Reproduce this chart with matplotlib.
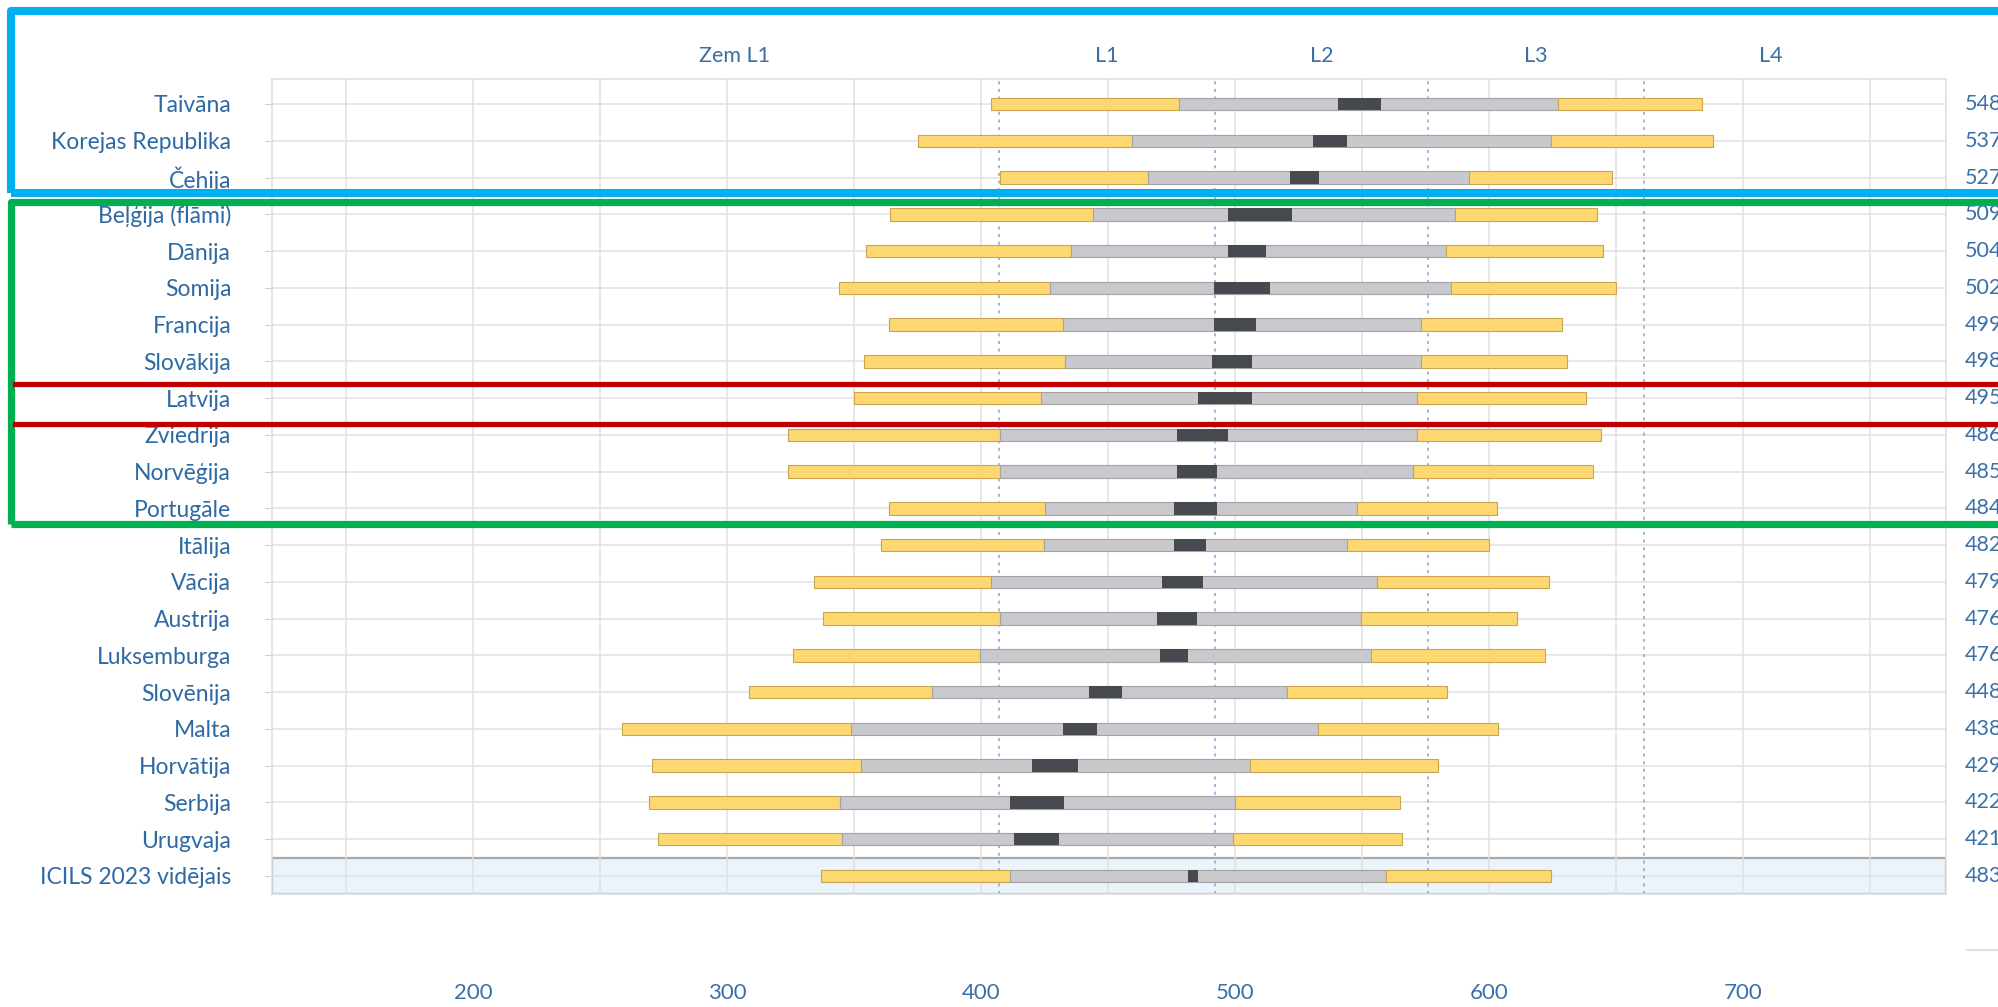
import matplotlib
matplotlib.use("Agg")
import matplotlib.pyplot as plt
from matplotlib.patches import Rectangle
from matplotlib.ticker import FuncFormatter

plt.rcParams['font.family'] = ['Lato', 'DejaVu Sans']

# data: percentiles 5/25, mean CI box, 75/95
countries = ['Taivāna', 'Korejas Republika', 'Čehija', 'Beļģija (flāmi)', 'Dānija',
             'Somija', 'Francija', 'Slovākija', 'Latvija', 'Zviedrija', 'Norvēģija',
             'Portugāle', 'Itālija', 'Vācija', 'Austrija', 'Luksemburga', 'Slovēnija',
             'Malta', 'Horvātija', 'Serbija', 'Urugvaja', 'ICILS 2023 vidējais']
means = [548, 537, 527, 509, 504, 502, 499, 498, 495, 486, 485, 484, 482, 479,
         476, 476, 448, 438, 429, 422, 421, 483]
p5 = [404, 375, 407.5, 364, 354.5, 344, 363.5, 354, 350, 324, 324, 363.5, 360.5,
      334, 337.5, 326, 308.5, 258.5, 270.5, 269, 272.5, 337]
p25 = [478, 459.5, 465.5, 444, 435.5, 427, 432, 433, 423.5, 407.5, 407.5, 425,
       424.5, 404, 407.5, 399.5, 380.5, 348.5, 352.5, 344.5, 345, 411.5]
ci_lo = [540.5, 530.5, 521.5, 497, 497, 491.5, 491.5, 491, 485.5, 477, 477, 476,
         476, 471, 469, 470.5, 442.5, 432, 420, 411.5, 413, 481.5]
ci_hi = [557.5, 544, 533, 522.5, 512, 513.5, 508, 506.5, 506.5, 497, 493, 493,
         488.5, 487.5, 485, 481.5, 455.5, 445.5, 438, 432.5, 430.5, 485.5]
p75 = [627, 624.5, 592, 586.5, 583, 585, 573, 573, 571.5, 571.5, 570, 548, 544,
       556, 549.5, 553.5, 520.5, 532.5, 506, 500, 499, 559.5]
p95 = [684, 688, 648.5, 642.5, 645, 650, 628.5, 630.5, 638, 644, 641, 603, 600,
       623.5, 611, 622, 583.5, 603.5, 580, 565, 565.5, 624.5]

benchmarks = [407, 492, 576, 661]
level_names = ['Zem L1', 'L1', 'L2', 'L3', 'L4']
level_pos = [303, 449.5, 534, 618.5, 711]

blue = '#2f69a3'
yellow = '#fdd871'
gray = '#c9c9cd'
dark = '#46494d'

fig = plt.figure(figsize=(19.98, 10.07), dpi=100)
ax = fig.add_axes([0.13589, 0.11221, 0.83784, 0.80934])

n = len(countries)
rows = list(range(n))
h = 0.34

# highlight band for the international average
ax.add_patch(Rectangle((120.5, n - 1.5), 780 - 120.5, 1.0, facecolor='#ebf3fb',
                       edgecolor='#a9a9a9', lw=1.6, zorder=0.3))

for i in rows:
    ax.barh(i, p25[i] - p5[i], left=p5[i], height=h, color=yellow,
            edgecolor='#c9a550', lw=0.8, zorder=2)
    ax.barh(i, p75[i] - p25[i], left=p25[i], height=h, color=gray,
            edgecolor='#a3a3a6', lw=0.8, zorder=2)
    ax.barh(i, p95[i] - p75[i], left=p75[i], height=h, color=yellow,
            edgecolor='#c9a550', lw=0.8, zorder=2)
    ax.barh(i, ci_hi[i] - ci_lo[i], left=ci_lo[i], height=h, color=dark,
            lw=0, zorder=3)
    ax.text(787.4, i, str(means[i]), color='#3a70a9', fontsize=15.5,
            va='center', ha='left', clip_on=False)

for b in benchmarks:
    ax.axvline(b, color='#8aa3c8', lw=1.1, ls=(0, (2, 3)), zorder=1)

for name, pos in zip(level_names, level_pos):
    ax.text(pos, -1.31, name, color='#3c6fa2', fontsize=15.5, ha='center',
            va='center', clip_on=False)

ax.set_xlim(120.5, 779.7)
ax.set_ylim(n - 0.51, -0.68)

ax.set_xticks(range(150, 800, 50))
ax.xaxis.set_major_formatter(FuncFormatter(
    lambda v, p: str(int(v)) if v % 100 == 0 and 200 <= v <= 700 else ''))
ax.tick_params(axis='x', length=0, pad=64, labelsize=16, labelcolor='#3a70a9')
ax.set_yticks(rows)
ax.set_yticklabels(countries)
ax.tick_params(axis='y', length=5, color='#cfcfcf', pad=24, labelsize=16.5,
               labelcolor=blue)

ax.grid(True, color='#e0e0e0', lw=1.1, zorder=0.5)
ax.set_axisbelow(True)
for s in ax.spines.values():
    s.set_color('#dedede')
    s.set_linewidth(1.1)

# small stray line at the bottom right
fig.add_artist(plt.Line2D([1967 / 1998, 1.0], [1 - 950 / 1007] * 2,
                          color='#d8d8d8', lw=1.2, transform=fig.transFigure))

# coloured annotation frames drawn on the screenshot
W, H = 1998.0, 1007.0
def frame(x0, y0, x1, y1, color, lw):
    fig.add_artist(Rectangle((x0 / W, 1 - y1 / H), (x1 - x0) / W, (y1 - y0) / H,
                             fill=False, edgecolor=color, lw=lw,
                             joinstyle='round', transform=fig.transFigure))

frame(11, 11, 2020, 193, '#00b0f0', 5.8)
frame(11, 201.5, 2020, 523.5, '#00b050', 5.2)
for y in [384, 423.5]:
    fig.add_artist(plt.Line2D([15 / W, 1.0], [1 - y / H] * 2, color='#c00000',
                              lw=3.8, transform=fig.transFigure))

fig.savefig('out.png', dpi=100)
